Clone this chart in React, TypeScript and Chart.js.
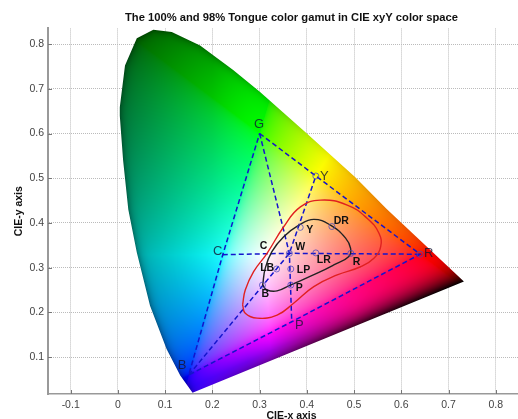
import React, { useEffect, useRef } from "react";
import { Chart, registerables } from "chart.js";

Chart.register(...registerables);

const titleText = "The 100% and 98% Tongue color gamut in CIE xyY color space";
const xLabel = "CIE-x axis";
const yLabel = "CIE-y axis";

const locusX = [0.158, 0.132, 0.103, 0.068, 0.04, 0.022, 0.011, 0.004, 0.004, 0.015, 0.04, 0.075, 0.114, 0.174, 0.244, 0.301, 0.4, 0.502, 0.569, 0.7325];
const locusY = [0.02, 0.059, 0.118, 0.215, 0.334, 0.43, 0.54, 0.64, 0.659, 0.752, 0.813, 0.832, 0.827, 0.797, 0.742, 0.693, 0.6, 0.503, 0.431, 0.269];

const gamutX = [0.3, 0.419, 0.64, 0.368, 0.15, 0.222, 0.3];
const gamutY = [0.6, 0.505, 0.33, 0.179, 0.06, 0.329, 0.6];
const spokeGX = [0.3, 0.363, 0.368];
const spokeGY = [0.6, 0.332, 0.179];
const spokeCX = [0.222, 0.363, 0.64];
const spokeCY = [0.329, 0.332, 0.33];
const spokeBX = [0.15, 0.363, 0.419];
const spokeBY = [0.06, 0.332, 0.505];

const tongue100X = [0.264, 0.2696, 0.2873, 0.3157, 0.351, 0.3864, 0.4289, 0.4855, 0.528, 0.5527, 0.5563, 0.542, 0.5138, 0.4643, 0.4147, 0.372, 0.337, 0.2945, 0.2696, 0.264];
const tongue100Y = [0.2167, 0.25, 0.291, 0.332, 0.3915, 0.436, 0.451, 0.44, 0.41, 0.377, 0.347, 0.321, 0.302, 0.2837, 0.2576, 0.2205, 0.194, 0.187, 0.198, 0.2167];
const tongue98X = [0.3065, 0.312, 0.326, 0.351, 0.383, 0.415, 0.45, 0.482, 0.4926, 0.489, 0.457, 0.422, 0.365, 0.337, 0.3157, 0.3065];
const tongue98Y = [0.261, 0.299, 0.336, 0.369, 0.395, 0.408, 0.395, 0.366, 0.343, 0.325, 0.306, 0.2875, 0.261, 0.248, 0.25, 0.261];

const markerX = [0.419, 0.64, 0.386, 0.453, 0.419, 0.493, 0.336, 0.366, 0.366, 0.306, 0.363];
const markerY = [0.505, 0.33, 0.39, 0.392, 0.333, 0.332, 0.297, 0.297, 0.261, 0.261, 0.332];

const outerNames = ["G", "Y", "R", "P", "B", "C"];
const outerX = [0.299, 0.437, 0.658, 0.384, 0.136, 0.211];
const outerY = [0.621, 0.505, 0.331, 0.171, 0.081, 0.336];
const innerNames = ["DR", "Y", "C", "W", "LR", "R", "LB", "LP", "P", "B"];
const innerX = [0.473, 0.406, 0.3085, 0.386, 0.436, 0.505, 0.316, 0.393, 0.384, 0.312];
const innerY = [0.405, 0.384, 0.348, 0.345, 0.316, 0.313, 0.299, 0.295, 0.255, 0.241];

const zip = (xs: number[], ys: number[]) => xs.map((x, i) => ({ x, y: ys[i] }));

const FONT = '"Liberation Sans", Arial, sans-serif';

function segDist(px: number, py: number, ax: number, ay: number, bx: number, by: number) {
  const dx = bx - ax, dy = by - ay;
  let t = ((px - ax) * dx + (py - ay) * dy) / (dx * dx + dy * dy);
  t = Math.max(0, Math.min(1, t));
  return Math.hypot(px - ax - t * dx, py - ay - t * dy);
}

const clamp01 = (v: number) => Math.max(0, Math.min(1, v));

function colorAt(x: number, y: number): [number, number, number] {
  const z = 1 - x - y;
  let r = 3.2406 * x - 1.5372 * y - 0.4986 * z;
  let g = -0.9689 * x + 1.8758 * y + 0.0415 * z;
  let b = 0.0557 * x - 0.204 * y + 1.057 * z;
  r = Math.max(r, 0); g = Math.max(g, 0); b = Math.max(b, 0);
  const m = Math.max(r, g, b, 1e-4);
  const gamma = 1 / 2.2;
  r = Math.pow(r / m, gamma); g = Math.pow(g / m, gamma); b = Math.pow(b / m, gamma);

  // pale area round the white point
  const dW = Math.hypot(x - 0.33, y - 0.33);
  const pale = 0.3 * Math.exp(-(dW * dW) / 0.012);
  r += (1 - r) * pale; g += (1 - g) * pale; b += (1 - b) * pale;

  let f = 1;
  // outside the B-G-R edge of the sRGB triangle
  const crossGB = (0.3 - 0.15) * (y - 0.06) - (0.6 - 0.06) * (x - 0.15);
  const crossGR = (0.64 - 0.3) * (y - 0.6) - (0.33 - 0.6) * (x - 0.3);
  if ((crossGB > 0 && y > 0.06) || crossGR > 0) {
    const d = Math.min(segDist(x, y, 0.15, 0.06, 0.3, 0.6), segDist(x, y, 0.3, 0.6, 0.64, 0.33));
    const s = clamp01((x - 0.2) / 0.2);
    const k = 1.8 + (0.3 - 1.8) * s;
    f *= Math.max(0.1, 1 - k * d);
  }
  // below the B-R line, towards the purple line
  const yBR = 0.06 + (0.27 / 0.49) * (x - 0.15);
  const yPur = 0.02 + (0.249 / 0.5745) * (x - 0.158);
  if (y < yBR && x > 0.15) {
    const t = Math.min(1, (yBR - y) / Math.max(1e-4, yBR - yPur));
    const u = clamp01((x - 0.158) / 0.5745);
    const end = Math.pow(1 - u, 1.6);
    f *= 1 + (end - 1) * t * t * t;
    r *= 1 - 0.4 * Math.min(1, t * 1.5) * clamp01((0.6 - u) / 0.4);
  }
  // edge vignette
  let dEdge = 1;
  for (let i = 0; i < locusX.length - 1; i++) {
    dEdge = Math.min(dEdge, segDist(x, y, locusX[i], locusY[i], locusX[i + 1], locusY[i + 1]));
  }
  const amp = 0.35 + (0.08 - 0.35) * clamp01((x - 0.1) / 0.3);
  f *= 1 - amp * Math.exp(-dEdge / 0.008);
  return [r * 255 * f, g * 255 * f, b * 255 * f];
}

const gamutFill = {
  id: "gamutFill",
  beforeDatasetsDraw(chart: any) {
    const { ctx, chartArea: a, scales } = chart;
    const xs = scales.x, ys = scales.y;
    const w = Math.ceil(a.right - a.left), h = Math.ceil(a.bottom - a.top);
    const off = document.createElement("canvas");
    off.width = w; off.height = h;
    const oc = off.getContext("2d")!;
    const img = oc.createImageData(w, h);
    const x0 = xs.getPixelForValue(Math.min(...locusX)), x1 = xs.getPixelForValue(Math.max(...locusX));
    for (let j = 0; j < h; j++) {
      const vy = ys.getValueForPixel(a.top + j + 0.5);
      for (let i = 0; i < w; i++) {
        const px = a.left + i + 0.5;
        if (px < x0 - 2 || px > x1 + 2) continue;
        const vx = xs.getValueForPixel(px);
        const c = colorAt(vx, vy);
        const k = (j * w + i) * 4;
        img.data[k] = c[0]; img.data[k + 1] = c[1]; img.data[k + 2] = c[2]; img.data[k + 3] = 255;
      }
    }
    oc.putImageData(img, 0, 0);
    ctx.save();
    ctx.beginPath();
    locusX.forEach((x, i) => {
      const px = xs.getPixelForValue(x), py = ys.getPixelForValue(locusY[i]);
      if (i === 0) ctx.moveTo(px, py); else ctx.lineTo(px, py);
    });
    ctx.closePath();
    ctx.clip();
    ctx.drawImage(off, a.left, a.top);
    ctx.restore();
  },
};

const overlay = {
  id: "overlay",
  afterDatasetsDraw(chart: any) {
    const { ctx, chartArea: a, scales } = chart;
    const xs = scales.x, ys = scales.y;
    ctx.save();
    ctx.strokeStyle = "#777";
    ctx.lineWidth = 1;
    ctx.beginPath();
    xs.ticks.forEach((t: any) => {
      const p = Math.round(xs.getPixelForValue(t.value)) + 0.5;
      ctx.moveTo(p, a.bottom); ctx.lineTo(p, a.bottom - 4);
    });
    ys.ticks.forEach((t: any) => {
      const p = Math.round(ys.getPixelForValue(t.value)) + 0.5;
      ctx.moveTo(a.left, p); ctx.lineTo(a.left + 4, p);
    });
    ctx.stroke();
    ctx.textAlign = "center";
    ctx.textBaseline = "middle";
    ctx.fillStyle = "rgba(20,20,50,0.8)";
    ctx.font = `13px ${FONT}`;
    outerNames.forEach((n, i) => ctx.fillText(n, xs.getPixelForValue(outerX[i]), ys.getPixelForValue(outerY[i])));
    ctx.fillStyle = "#111";
    ctx.font = `bold 10.5px ${FONT}`;
    innerNames.forEach((n, i) => ctx.fillText(n, xs.getPixelForValue(innerX[i]), ys.getPixelForValue(innerY[i])));
    ctx.restore();
  },
};

export default function App() {
  const ref = useRef<HTMLCanvasElement>(null);
  useEffect(() => {
    const dashed = { showLine: true, borderColor: "#1414cc", borderWidth: 1.5, borderDash: [5, 3], pointRadius: 0, tension: 0, fill: false };
    const chart = new Chart(ref.current!, {
      type: "scatter",
      data: {
        datasets: [
          { label: "Markers", data: zip(markerX, markerY), showLine: false, pointRadius: 3, pointBackgroundColor: "transparent", pointBorderColor: "rgba(70,70,190,0.75)", pointBorderWidth: 1 },
          { label: "98% tongue gamut", data: zip(tongue98X, tongue98Y), showLine: true, borderColor: "#222", borderWidth: 1.4, pointRadius: 0, tension: 0.45, fill: false },
          { label: "100% tongue gamut", data: zip(tongue100X, tongue100Y), showLine: true, borderColor: "#e02020", borderWidth: 1.4, pointRadius: 0, tension: 0.45, fill: false },
          { label: "Gamut", data: zip(gamutX, gamutY), ...dashed },
          { label: "G-P", data: zip(spokeGX, spokeGY), ...dashed },
          { label: "C-R", data: zip(spokeCX, spokeCY), ...dashed },
          { label: "B-Y", data: zip(spokeBX, spokeBY), ...dashed },
          { label: "Locus", data: zip(locusX, locusY), showLine: false, pointRadius: 0 },
        ],
      } as any,
      options: {
        animation: false,
        responsive: false,
        layout: { padding: 0 },
        plugins: {
          legend: { display: false },
          tooltip: { enabled: false },
          title: {
            display: true,
            text: titleText,
            fullSize: false,
            color: "#111",
            font: { family: FONT, size: 11.2, weight: "bold" },
            padding: { top: 11, bottom: 4 },
          },
        },
        scales: {
          x: {
            type: "linear",
            min: -0.148,
            max: 0.883,
            afterFit: (s: any) => { s.height = 25; s.paddingLeft = 0; s.paddingRight = 0; },
            title: { display: true, text: xLabel, color: "#111", font: { family: FONT, size: 10.5, weight: "bold" }, padding: { top: 0, bottom: -3 } },
            border: { color: "#999", width: 1.5, dash: [1, 1] },
            grid: { color: "#bbb", lineWidth: 1, tickLength: 0, drawTicks: false },
            ticks: {
              stepSize: 0.1,
              includeBounds: false,
              maxRotation: 0,
              color: "#444",
              padding: 5,
              font: { family: FONT, size: 10.5 },
              callback: (v: any) => String(+Number(v).toFixed(1)),
            },
          } as any,
          y: {
            type: "linear",
            min: 0.0174,
            max: 0.835,
            afterFit: (s: any) => { s.width = 48; s.paddingTop = 0; s.paddingBottom = 0; },
            title: { display: true, text: yLabel, color: "#111", font: { family: FONT, size: 10.5, weight: "bold" }, padding: { top: 13, bottom: 13 } },
            border: { color: "#999", width: 2, dash: [1, 1] },
            grid: { color: "#bbb", lineWidth: 1, tickLength: 0, drawTicks: false },
            ticks: {
              stepSize: 0.1,
              includeBounds: false,
              color: "#444",
              padding: 4,
              font: { family: FONT, size: 10.5 },
              callback: (v: any) => String(+Number(v).toFixed(1)),
            },
          } as any,
        },
      } as any,
      plugins: [gamutFill, overlay],
    });
    return () => chart.destroy();
  }, []);
  return (
    <div style={{ position: "fixed", left: 0, top: 0, width: 518, height: 419, overflow: "hidden", background: "#fff" }}>
      <canvas ref={ref} width={540} height={419} style={{ display: "block", width: 540, height: 419, filter: "blur(0.4px)" }} />
    </div>
  );
}
